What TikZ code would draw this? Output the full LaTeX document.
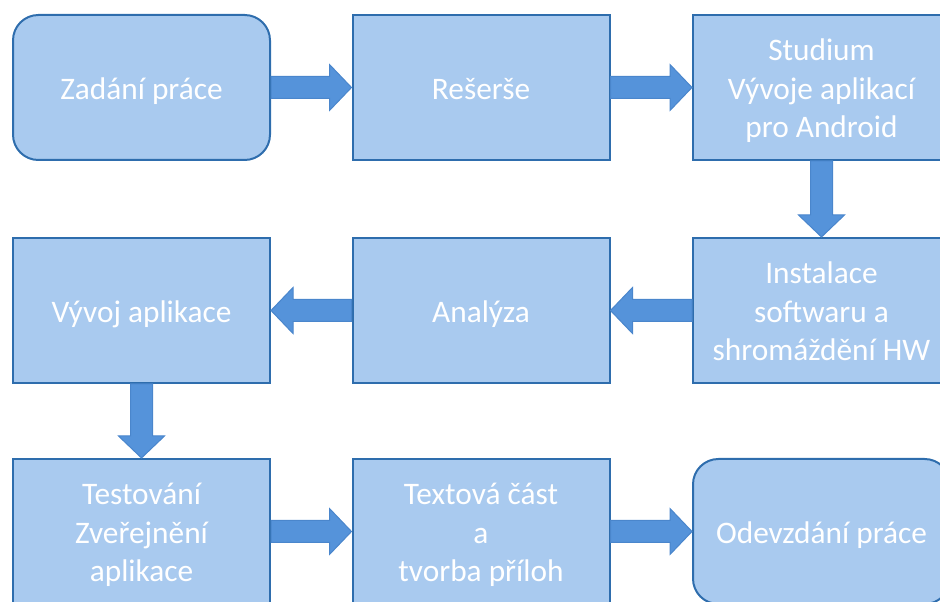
\documentclass[tikz,border=0pt]{standalone}
\usepackage{fontspec}
\setmainfont{Carlito}
\usetikzlibrary{calc}
\definecolor{boxfill}{HTML}{A9CAEF}
\definecolor{boxline}{HTML}{2E6DAD}
\definecolor{arrfill}{HTML}{5593DA}
\definecolor{arrline}{HTML}{4A86CC}
\newcommand\bxt[1]{\raisebox{0pt}[\dimexpr\height+6pt\relax][\depth]{\begin{tabular}{@{}c@{}}#1\end{tabular}}}
\newcommand\blkR[2]{\draw[blockarr] ($(#1.east)+(0,-11)$) -- ($(#2.west)+(-22,-11)$) -- ($(#2.west)+(-22,-23)$) -- (#2.west) -- ($(#2.west)+(-22,23)$) -- ($(#2.west)+(-22,11)$) -- ($(#1.east)+(0,11)$) -- cycle;}
\newcommand\blkL[2]{\draw[blockarr] ($(#1.west)+(0,-11)$) -- ($(#2.east)+(22,-11)$) -- ($(#2.east)+(22,-23)$) -- (#2.east) -- ($(#2.east)+(22,23)$) -- ($(#2.east)+(22,11)$) -- ($(#1.west)+(0,11)$) -- cycle;}
\newcommand\blkD[2]{\draw[blockarr] ($(#1.south)+(-11,0)$) -- ($(#2.north)+(-11,-22)$) -- ($(#2.north)+(-23,-22)$) -- (#2.north) -- ($(#2.north)+(23,-22)$) -- ($(#2.north)+(11,-22)$) -- ($(#1.south)+(11,0)$) -- cycle;}
\tikzset{
  stepbox/.style={draw=boxline, fill=boxfill, line width=1.5pt, minimum width=192.75pt, minimum height=108.75pt, inner sep=0pt, text=white, font=\fontsize{23.5pt}{29pt}\selectfont},
  roundbox/.style={stepbox, rounded corners=19pt},
  blockarr/.style={fill=arrfill, draw=arrline, line width=0.75pt, line join=miter}
}
\begin{document}
\begin{tikzpicture}[x=0.75pt, y=-0.75pt]
\useasboundingbox (0,0) rectangle (940,602);
\clip (0,0) rectangle (940,602);
\node[roundbox] (zadani) at (141.5,87.5) {\bxt{Zadání práce}};
\node[stepbox] (reserse) at (481,87.5) {\bxt{Rešerše}};
\node[stepbox] (studium) at (821.5,87.5) {\bxt{Studium\\Vývoje aplikací\\pro Android}};
\node[stepbox] (vyvoj) at (141.5,310.5) {\bxt{Vývoj aplikace}};
\node[stepbox] (analyza) at (481,310.5) {\bxt{Analýza}};
\node[stepbox] (instalace) at (821.5,310.5) {\bxt{Instalace\\softwaru a\\shromáždění HW}};
\node[stepbox] (testovani) at (141.5,531.5) {\bxt{Testování\\Zveřejnění\\aplikace}};
\node[stepbox] (textova) at (481,531.5) {\bxt{Textová část\\a\\tvorba příloh}};
\node[roundbox] (odevzdani) at (821.5,531.5) {\bxt{Odevzdání práce}};
\blkR{zadani}{reserse}
\blkR{reserse}{studium}
\blkD{studium}{instalace}
\blkL{instalace}{analyza}
\blkL{analyza}{vyvoj}
\blkD{vyvoj}{testovani}
\blkR{testovani}{textova}
\blkR{textova}{odevzdani}
\end{tikzpicture}
\end{document}
